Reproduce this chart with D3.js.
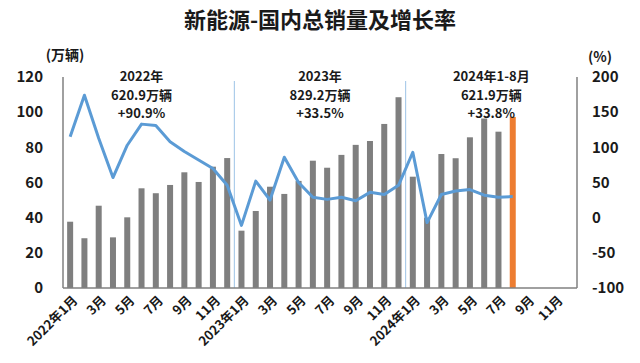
<!DOCTYPE html>
<html>
<head>
<meta charset="utf-8">
<script src="https://cdn.jsdelivr.net/npm/d3@7"></script>
<style>
  body { margin: 0; background: #fff; }
  svg text { font-family: "Noto Sans CJK SC", "Noto Sans", sans-serif; font-weight: bold; fill: #1a1a1a; }
</style>
</head>
<body>
<div id="chart"></div>
<script>
var years = ["2022", "2023", "2024"];
var months = [];
years.forEach(function(yr) {
  for (var m = 1; m <= 12; m++) months.push(yr + "-" + m);
});

// 万辆, domestic NEV sales per month (Sep-Dec 2024 not yet published)
var sales2022 = [37.7, 28.3, 46.8, 28.8, 40.2, 56.7, 53.9, 58.6, 65.8, 60.3, 69.0, 73.9];
var sales2023 = [32.6, 43.8, 57.6, 53.5, 60.9, 72.4, 68.4, 75.7, 81.4, 83.6, 93.3, 108.5];
var sales2024 = [63.3, 40.0, 76.2, 73.8, 85.7, 96.4, 88.9, 97.3, null, null, null, null];

// % year on year
var growth2022 = [115, 174, 113, 57, 103, 133, 131, 108, 94, 82, 70, 46];
var growth2023 = [-11, 52, 25, 86, 50, 29, 26, 29, 24, 36, 33, 46];
var growth2024 = [93, -7, 33, 38, 40, 32, 29, 30, null, null, null, null];

var leftTicks = [0, 20, 40, 60, 80, 100, 120];
var rightTicks = [-100, -50, 0, 50, 100, 150, 200];

var xLabels = ["2022年1月", "3月", "5月", "7月", "9月", "11月",
               "2023年1月", "3月", "5月", "7月", "9月", "11月",
               "2024年1月", "3月", "5月", "7月", "9月", "11月"];

// text over each period, centred over the months from..to
var notes = [
  { lines: ["2022年", "620.9万辆", "+90.9%"], from: "2022-1", to: "2022-11" },
  { lines: ["2023年", "829.2万辆", "+33.5%"], from: "2023-1", to: "2023-12" },
  { lines: ["2024年1-8月", "621.9万辆", "+33.8%"], from: "2024-2", to: "2024-11" }
];

var sales = sales2022.concat(sales2023, sales2024);
var growth = growth2022.concat(growth2023, growth2024);
var data = months.map(function(m, i) {
  return { month: m, sales: sales[i], growth: growth[i] };
});
var lastMonth = "2024-8";

var width = 640, height = 363;
var margin = { top: 77, right: 63, bottom: 75, left: 63 };

var svg = d3.select("#chart").append("svg")
  .attr("width", width)
  .attr("height", height);

var x = d3.scaleBand()
  .domain(months)
  .range([margin.left, width - margin.right])
  .padding(0);

var y = d3.scaleLinear()
  .domain([0, 120])
  .range([height - margin.bottom, margin.top]);

var y2 = d3.scaleLinear()
  .domain([-100, 200])
  .range([height - margin.bottom, margin.top]);

// title
svg.append("text")
  .attr("x", 320)
  .attr("y", 28)
  .attr("text-anchor", "middle")
  .style("font-size", "22px")
  .text("新能源-国内总销量及增长率");

svg.append("text")
  .attr("x", 65)
  .attr("y", 60)
  .attr("text-anchor", "middle")
  .style("font-size", "14px")
  .text("(万辆)");

svg.append("text")
  .attr("x", 600)
  .attr("y", 62)
  .attr("text-anchor", "middle")
  .style("font-size", "14px")
  .text("(%)");

// year separators
[ "2023-1", "2024-1" ].forEach(function(m) {
  svg.append("line")
    .attr("x1", x(m)).attr("x2", x(m))
    .attr("y1", 81).attr("y2", y(0))
    .style("stroke", "#9dc3e6")
    .style("stroke-width", 1);
});

// bars
svg.append("g").selectAll("rect")
  .data(data.filter(function(d) { return d.sales != null; }))
  .enter().append("rect")
    .attr("x", function(d) { return x(d.month) + x.bandwidth() / 2 - 3; })
    .attr("width", 6)
    .attr("y", function(d) { return y(d.sales); })
    .attr("height", function(d) { return y(0) - y(d.sales); })
    .style("fill", function(d) { return d.month === lastMonth ? "#ed7d31" : "#7f7f7f"; });

// growth line
var line = d3.line()
  .defined(function(d) { return d.growth != null; })
  .x(function(d) { return x(d.month) + x.bandwidth() / 2; })
  .y(function(d) { return y2(d.growth); });

svg.append("path")
  .datum(data)
  .attr("d", line)
  .style("fill", "none")
  .style("stroke", "#5b9bd5")
  .style("stroke-width", 3)
  .style("stroke-linejoin", "round");

// axes frame
var axisColor = "#808080";
svg.append("line")
  .attr("x1", margin.left).attr("x2", margin.left)
  .attr("y1", margin.top).attr("y2", y(0))
  .style("stroke", axisColor).style("stroke-width", 1.5);
svg.append("line")
  .attr("x1", width - margin.right).attr("x2", width - margin.right)
  .attr("y1", margin.top).attr("y2", y(0))
  .style("stroke", axisColor).style("stroke-width", 1.5);
svg.append("line")
  .attr("x1", margin.left).attr("x2", width - margin.right)
  .attr("y1", y(0)).attr("y2", y(0))
  .style("stroke", axisColor).style("stroke-width", 1.5);

// left ticks
svg.append("g").selectAll("text")
  .data(leftTicks)
  .enter().append("text")
    .attr("x", 43)
    .attr("y", function(d) { return y(d); })
    .attr("dy", "0.35em")
    .attr("text-anchor", "end")
    .style("font-size", "15px")
    .text(function(d) { return d; });

// right ticks
svg.append("g").selectAll("text")
  .data(rightTicks)
  .enter().append("text")
    .attr("x", 592)
    .attr("y", function(d) { return y2(d); })
    .attr("dy", "0.35em")
    .attr("text-anchor", "start")
    .style("font-size", "15px")
    .text(function(d) { return d; });

// x labels, every other month
svg.append("g").selectAll("text")
  .data(xLabels)
  .enter().append("text")
    .attr("transform", function(d, i) {
      var cx = x(months[i * 2]) + x.bandwidth() / 2 + 5;
      return "translate(" + cx + "," + (y(0) + 10) + ") rotate(-45)";
    })
    .attr("dy", "0.35em")
    .attr("text-anchor", "end")
    .style("font-size", "13px")
    .text(function(d) { return d; });

// period notes, one text per line
notes.forEach(function(n) {
  var cx = (x(n.from) + x(n.to) + x.bandwidth()) / 2;
  n.lines.forEach(function(s, i) {
    svg.append("text")
      .attr("x", cx)
      .attr("y", 81 + i * 18.5)
      .attr("text-anchor", "middle")
      .style("font-size", "13px")
      .text(s);
  });
});
</script>
</body>
</html>
